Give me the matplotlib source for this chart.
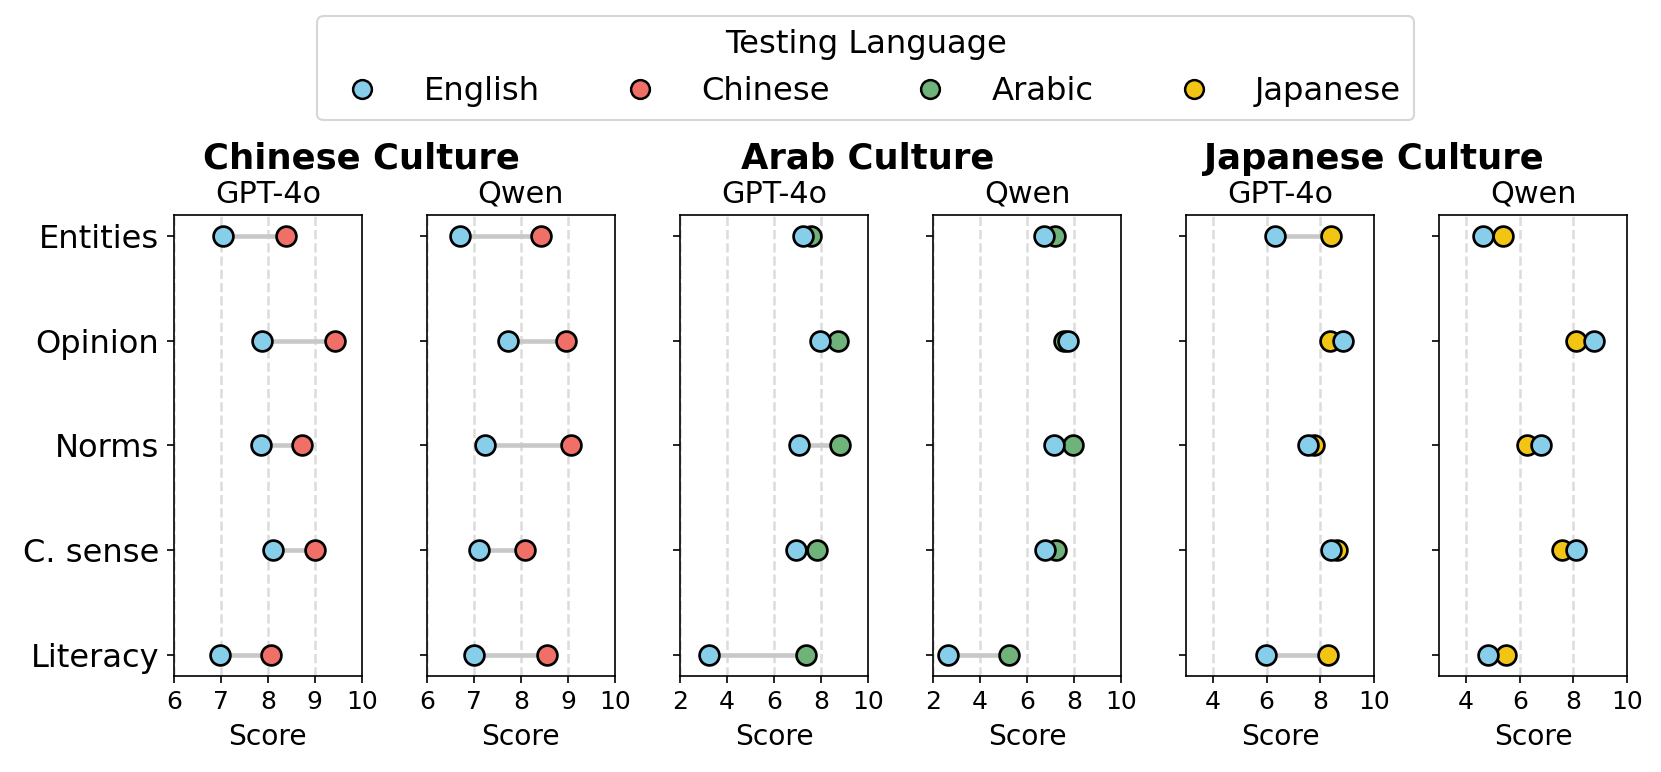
import matplotlib.pyplot as plt
from matplotlib.lines import Line2D

categories = ["Entities", "Opinion", "Norms", "C. sense", "Literacy"]

# Chinese culture
english_cn_gpt = [7.05, 7.87, 7.86, 8.11, 6.98]
chinese_cn_gpt = [8.38, 9.44, 8.73, 9.00, 8.07]
english_cn_qwen = [6.71, 7.73, 7.24, 7.11, 7.00]
chinese_cn_qwen = [8.43, 8.96, 9.06, 8.09, 8.55]

# Arab culture
english_ar_gpt = [7.24, 7.95, 7.07, 6.93, 3.24]
arabic_ar_gpt = [7.57, 8.71, 8.82, 7.83, 7.38]
english_ar_qwen = [6.71, 7.75, 7.17, 6.78, 2.65]
arabic_ar_qwen = [7.18, 7.57, 7.94, 7.22, 5.23]

# Japanese culture
english_jp_gpt = [6.31, 8.83, 7.53, 8.39, 5.98]
japanese_jp_gpt = [8.39, 8.37, 7.77, 8.61, 8.30]
english_jp_qwen = [4.62, 8.77, 6.78, 8.09, 4.83]
japanese_jp_qwen = [5.38, 8.10, 6.27, 7.57, 5.49]

colors = {
    "English": "#87CEEB",
    "Chinese": "#F07068",
    "Arabic": "#6FB27A",
    "Japanese": "#F2C413",
}

panels = [
    ("Chinese Culture", "GPT-4o", "Chinese", english_cn_gpt, chinese_cn_gpt, (6, 10), [6, 7, 8, 9, 10]),
    ("Chinese Culture", "Qwen", "Chinese", english_cn_qwen, chinese_cn_qwen, (6, 10), [6, 7, 8, 9, 10]),
    ("Arab Culture", "GPT-4o", "Arabic", english_ar_gpt, arabic_ar_gpt, (2, 10), [2, 4, 6, 8, 10]),
    ("Arab Culture", "Qwen", "Arabic", english_ar_qwen, arabic_ar_qwen, (2, 10), [2, 4, 6, 8, 10]),
    ("Japanese Culture", "GPT-4o", "Japanese", english_jp_gpt, japanese_jp_gpt, (3, 10), [4, 6, 8, 10]),
    ("Japanese Culture", "Qwen", "Japanese", english_jp_qwen, japanese_jp_qwen, (3, 10), [4, 6, 8, 10]),
]

fig, axes = plt.subplots(1, 6, figsize=(1661 / 150, 772 / 150), dpi=150, sharey=True)
fig.subplots_adjust(left=0.1048, right=0.9795, top=0.7215, bottom=0.1247, wspace=0.349)

ypos = list(range(len(categories)))

for i, (culture, model, lang, eng, nat, xlim, xticks) in enumerate(panels):
    ax = axes[i]
    for y, a, b in zip(ypos, eng, nat):
        ax.plot([min(a, b), max(a, b)], [y, y], color="#c8c8c8", lw=2.2, zorder=1)
    ax.plot(nat, ypos, "o", color=colors[lang], markeredgecolor="black",
            markeredgewidth=1.3, markersize=9.5, zorder=3)
    ax.plot(eng, ypos, "o", color=colors["English"], markeredgecolor="black",
            markeredgewidth=1.3, markersize=9.5, zorder=4)
    ax.set_xlim(*xlim)
    ax.set_xticks(xticks)
    ax.tick_params(axis="x", labelsize=12)
    ax.grid(axis="x", linestyle="--", color="#dcdcdc", lw=1.2, zorder=0)
    ax.set_axisbelow(True)
    ax.set_xlabel("Score", fontsize=13.5)
    ax.set_title(model, fontsize=14.5, pad=6)
    if i % 2 == 0:
        ax.text(1.0, 1.122, culture, transform=ax.transAxes, ha="center", va="center",
                fontsize=17, fontweight="bold")

axes[0].set_yticks(ypos)
axes[0].set_yticklabels(categories, fontsize=15.4)
axes[0].invert_yaxis()

handles = [
    Line2D([], [], marker="o", linestyle="none", color=colors[name], markeredgecolor="black",
           markeredgewidth=1.2, markersize=9, label=name)
    for name in ["English", "Chinese", "Arabic", "Japanese"]
]
fig.legend(handles=handles, loc="upper center", bbox_to_anchor=(0.5212, 0.979), ncol=4,
           borderaxespad=0, title="Testing Language", fontsize=15.5, title_fontsize=15.5,
           columnspacing=2.1, handletextpad=0.9)

fig.savefig("out.png", dpi=150)
